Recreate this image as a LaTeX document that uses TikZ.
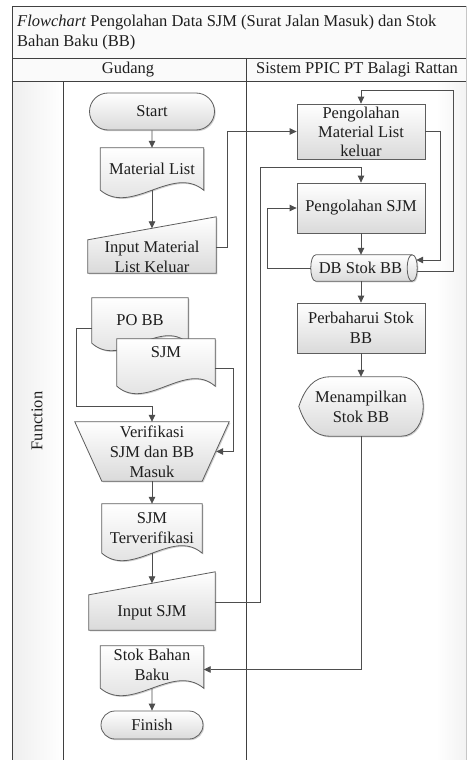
\documentclass[tikz,border=0pt]{standalone}
\usepackage{fontspec}
\setmainfont{Liberation Serif}
\usetikzlibrary{arrows.meta,calc,shapes.misc,shadows}

\definecolor{lineC}{HTML}{5E5E5E}
\definecolor{connC}{HTML}{4E4E4E}
\definecolor{frameC}{HTML}{404040}
\definecolor{txtC}{HTML}{1E1E1E}
\definecolor{shadeB}{HTML}{DADADA}

\newcommand\nf{\fontsize{16.5}{20}\selectfont}

\pgfdeclarelayer{frame}
\pgfdeclarelayer{shapes}
\pgfsetlayers{frame,shapes,main}

\tikzset{
  holder/.style={inner sep=0pt, align=center, font=\nf, text=txtC},
  look/.style={draw=lineC, line width=0.8pt, top color=white, bottom color=shadeB,
    drop shadow={shadow xshift=1.2pt, shadow yshift=-1.2pt, opacity=0.18, fill=black}},
  termbox/.style={holder, look, rounded rectangle},
  procbox/.style={holder, look, rectangle},
  arr/.style={draw=connC, line width=0.8pt, -{Triangle[length=7pt,width=6.5pt]}},
  rule/.style={draw=frameC, line width=0.8pt},
}

% document symbol: flat top, wavy bottom (#2 = extra depth below the node, #3 = wave control offset)
\newcommand\docshape[3]{%
  \path[look] (#1.north west) -- (#1.north east) -- ($(#1.south east)+(0,#2)$)
    .. controls ($(#1.south east)!0.3!(#1.south west)+(0,#2-#3)$)
       and ($(#1.south west)!0.3!(#1.south east)+(0,#2+#3)$) .. ($(#1.south west)+(0,#2)$) -- cycle;}
% manual input: top edge rising to the right by #2
\newcommand\maninput[2]{%
  \path[look] (#1.south west) -- (#1.north west) -- ($(#1.north east)+(0,-#2)$) -- (#1.south east) -- cycle;}

\begin{document}
\begin{tikzpicture}[x=1pt,y=-1pt]
\useasboundingbox (0,0) rectangle (469,760);

% ---------- swimlane frame ----------
\begin{pgfonlayer}{frame}
  \fill[white] (0,0) rectangle (469,760);
  \fill[gray!4] (12,6) rectangle (466,81);
  \shade[left color=gray!13, right color=white] (12,81) rectangle (63,760);
  \shade[left color=white, right color=gray!10] (436,81) rectangle (466,760);
  \draw[rule] (12,760) -- (12,6) -- (466,6);
  \draw[draw=gray!45, line width=0.8pt] (466,6) -- (466,760);
  \draw[rule] (12,58) -- (466,58);
  \draw[rule] (12,81) -- (466,81);
  \draw[rule] (246,58) -- (246,760);
  \draw[rule] (63,81) -- (63,760);
\end{pgfonlayer}

\node[holder, align=left, anchor=west] (title) at (17,32.5)
  {\textit{Flowchart} Pengolahan Data SJM (Surat Jalan Masuk) dan Stok\\Bahan Baku (BB)};
\node[holder] (gudang) at (128,70) {Gudang};
\node[holder] (sistem) at (357,70) {Sistem PPIC PT Balagi Rattan};
\node[holder, rotate=90] (func) at (37,421) {Function};

% ---------- Gudang lane ----------
\node[termbox, minimum width=125pt, minimum height=37pt] (start) at (152,111.5) {Start};
\node[holder, minimum width=103pt, minimum height=42pt] (ml) at (152,169) {Material List};
\node[holder, minimum width=128pt, minimum height=33pt] (iml) at (152,256.5) {Input Material\\List Keluar};
\node[holder, minimum width=96pt, minimum height=45pt] (pobb) at (140,320.5) {PO BB};
\node[holder, minimum width=98pt, minimum height=26pt] (sjm) at (166,352) {SJM};
\node[holder, minimum width=154pt, minimum height=59pt] (ver) at (152,451.5) {Verifikasi\\SJM dan BB\\Masuk};
\node[holder, minimum width=100pt, minimum height=49pt] (sjmt) at (152,528.5) {SJM\\Terverifikasi};
\node[holder, minimum width=126pt, minimum height=35pt] (isjm) at (152,612.5) {Input SJM};
\node[holder, minimum width=103pt, minimum height=37pt] (sbb) at (152,664.5) {Stok Bahan\\Baku};
\node[termbox, minimum width=102pt, minimum height=28pt] (finish) at (152,725) {Finish};

% ---------- Sistem PPIC lane ----------
\node[procbox, minimum width=128pt, minimum height=55pt, font=\fontsize{16.5}{19}\selectfont] (pml) at (361,131.5) {Pengolahan\\Material List\\keluar};
\node[procbox, minimum width=128pt, minimum height=50pt] (psjm) at (361,208) {Pengolahan SJM};
\node[holder, minimum width=106pt, minimum height=26pt] (db) at (364,268) {DB Stok BB\rule{7pt}{0pt}};
\node[procbox, minimum width=128pt, minimum height=50pt] (pstok) at (361,328) {Perbaharui Stok\\BB};
\node[holder, minimum width=124pt, minimum height=59pt] (disp) at (361,406.5) {Menampilkan\\Stok BB};

% ---------- symbol outlines ----------
\begin{pgfonlayer}{shapes}
  \docshape{ml}{0}{26}
  \maninput{iml}{23}
  \docshape{pobb}{0}{26}
  \docshape{sjm}{21}{26}
  \path[look] (ver.north west) -- (ver.north east) -- ($(ver.south east)+(-27,0)$) -- ($(ver.south west)+(27,0)$) -- cycle;
  \docshape{sjmt}{0}{26}
  \maninput{isjm}{23}
  \docshape{sbb}{5}{26}
  % direct access storage
  \path[look] ($(db.north west)+(5,0)$) -- ($(db.north east)+(-5,0)$)
    .. controls +(6.7,0) and +(6.7,0) .. ($(db.south east)+(-5,0)$)
    -- ($(db.south west)+(5,0)$)
    .. controls +(-6.7,0) and +(-6.7,0) .. ($(db.north west)+(5,0)$) -- cycle;
  \draw[draw=lineC, line width=0.8pt] ($(db.north east)+(-5,0)$)
    .. controls +(-6.7,0) and +(-6.7,0) .. ($(db.south east)+(-5,0)$);
  % display
  \path[look] (disp.west) .. controls +(6,-18) and +(-16,0) .. ($(disp.north west)+(31,0)$)
    -- ($(disp.north east)+(-22,0)$) .. controls +(14,0) and +(0,-16) .. (disp.east)
    .. controls +(0,16) and +(14,0) .. ($(disp.south east)+(-22,0)$)
    -- ($(disp.south west)+(31,0)$) .. controls +(-16,0) and +(6,18) .. (disp.west) -- cycle;
\end{pgfonlayer}

% ---------- flow ----------
\draw[arr] (start) -- (ml);
\draw[arr] (ml.south) -- ($(iml.north)+(0,-11.5)$);
\draw[arr] ($(iml.east)+(0,-9.5)$) -- ++(11,0) |- (pml.west);
\draw[arr] (pml.east) -- ++(15,0) |- ($(db.east)+(-1,-8)$);
\draw[arr] ($(db.east)+(0,3)$) -- ++(36,0) |- ($(pml.north)+(0,-13)$) -- (pml.north);
\draw[arr] (db.west) -- ++(-43,0) |- (psjm.west);
\draw[arr] (psjm.south) -- (psjm.south |- db.north);
\draw[arr] (pstok.north |- db.south) -- (pstok.north);
\draw[arr] (pstok) -- (disp);
\draw[arr] (disp.south) |- ($(sbb.east)+(0,5)$);
\draw[arr] ($(pobb.west)+(0,7.5)$) -- ++(-15,0) |- ($(ver.north)+(0,-15)$) -- (ver.north);
\draw[arr] ($(sjm.east)+(0,16)$) -- ++(18,0) |- ($(ver.east)+(-13,0)$);
\draw[arr] (ver) -- (sjmt);
\draw[arr] (sjmt.south) -- ($(isjm.north)+(0,-11.5)$);
\draw[arr] ($(isjm.east)+(0,-10.5)$) -- ++(45,0) |- ($(psjm.north)+(0,-15)$) -- (psjm.north);
\draw[arr] ($(sbb.south)+(0,5)$) -- (finish);
\end{tikzpicture}
\end{document}
